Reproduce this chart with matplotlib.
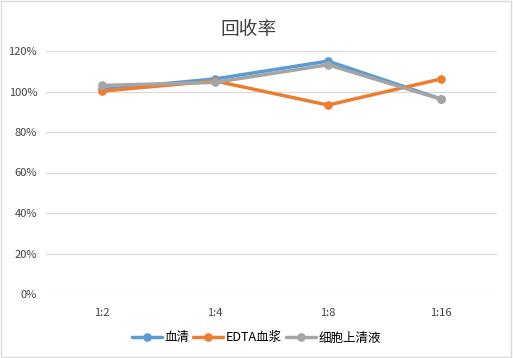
import matplotlib
matplotlib.use("Agg")
import matplotlib.pyplot as plt
from matplotlib.ticker import FuncFormatter

plt.rcParams['font.family'] = ['Noto Sans CJK SC', 'DejaVu Sans']

categories = ["1:2", "1:4", "1:8", "1:16"]
serum = [101.0, 106.2, 115.0, 96.3]
edta_plasma = [100.2, 105.2, 93.3, 106.2]
cell_sup = [103.0, 104.5, 113.2, 96.2]
series_names = ["血清", "EDTA血浆", "细胞上清液"]
colors = ["#5B9BD5", "#ED7D31", "#A5A5A5"]

fig = plt.figure(figsize=(5.13, 3.58), dpi=100)
ax = fig.add_axes([45.5/513, 1 - 294/358, 452/513, 243/358])

x = list(range(len(categories)))
for vals, name, c in zip([serum, edta_plasma, cell_sup], series_names, colors):
    ax.plot(x, vals, color=c, lw=2.5, marker='o', ms=5.2, label=name, solid_capstyle='round')

ax.set_xlim(-0.5, len(categories) - 0.5)
ax.set_ylim(0, 120)
ax.set_yticks(range(0, 121, 20))
ax.yaxis.set_major_formatter(FuncFormatter(lambda v, p: f"{int(v)}%"))
ax.set_xticks(x)
ax.set_xticklabels(categories)
ax.grid(axis='y', color='#D9D9D9', lw=0.9)
ax.set_axisbelow(True)
for s in ax.spines.values():
    s.set_visible(False)
ax.tick_params(length=0, labelsize=8, colors='#404040', pad=6)
ax.tick_params(axis='x', pad=10)

fig.text(0.484, 1 - 30/358, "回收率", ha='center', va='center', fontsize=13.5, color='#404040')

fig.legend(loc='center', bbox_to_anchor=(0.5, 1 - 338/358), ncol=3, frameon=False,
           fontsize=9, handlelength=2.4, handletextpad=0.2, columnspacing=0.3)

fig.patches.append(plt.Rectangle((0.002, 0.003), 0.995, 0.994, transform=fig.transFigure,
                                 fill=False, edgecolor='#D9D9D9', lw=1))

fig.savefig("out.png", dpi=100)
